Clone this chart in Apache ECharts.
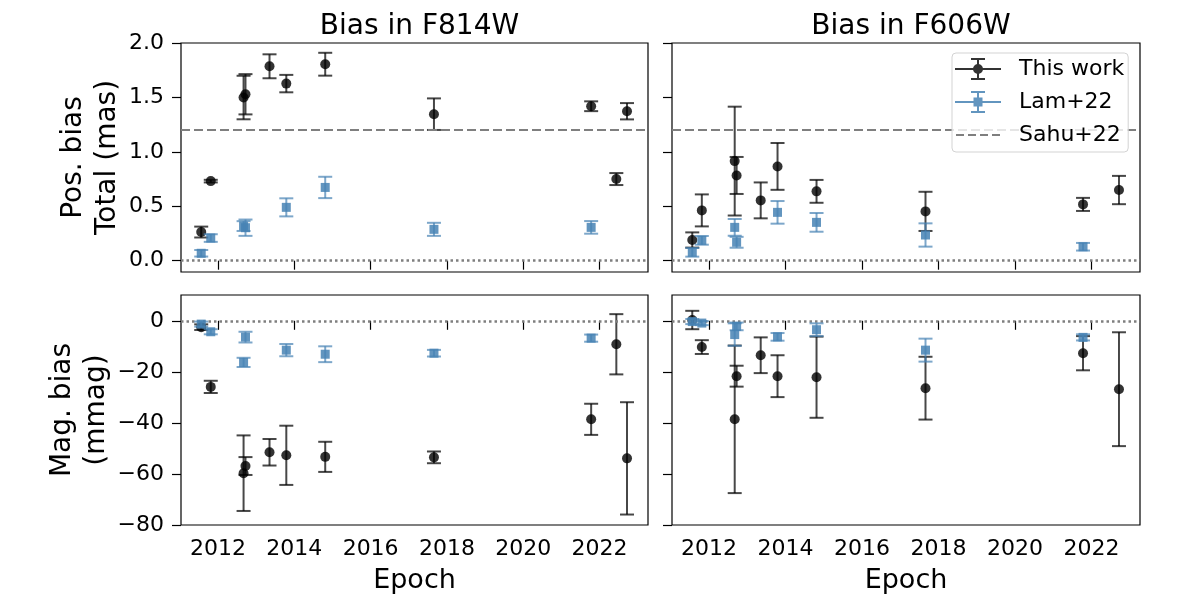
<!DOCTYPE html>
<html>
<head>
<meta charset="utf-8">
<script src="https://cdn.jsdelivr.net/npm/echarts@6/dist/echarts.min.js"></script>
<style>html,body{margin:0;padding:0;background:#fff;}#c{width:1200px;height:600px;}</style>
</head>
<body>
<div id="c"></div>
<script>
// ---- data ----
const epochsThis = [2011.56, 2011.81, 2012.67, 2012.72, 2013.35, 2013.79, 2014.81, 2017.66, 2021.78, 2022.44, 2022.72];
const epochsLam  = [2011.56, 2011.81, 2012.67, 2012.72, 2013.79, 2014.81, 2017.66, 2021.78];

const pos814This = [0.263, 0.731, 1.499, 1.529, 1.786, 1.627, 1.805, 1.346, 1.419, 0.75, 1.373];
const pos814ThisErr = [0.05, 0.012, 0.2, 0.185, 0.11, 0.08, 0.105, 0.145, 0.045, 0.055, 0.075];
const pos606This = [0.19, 0.462, 0.915, 0.783, 0.554, 0.866, 0.637, 0.453, 0.517, null, 0.649];
const pos606ThisErr = [0.07, 0.147, 0.5, 0.17, 0.165, 0.215, 0.105, 0.18, 0.06, null, 0.13];

const pos814Lam = [0.068, 0.208, 0.318, 0.303, 0.49, 0.673, 0.288, 0.306];
const pos814LamErr = [0.03, 0.035, 0.045, 0.075, 0.083, 0.098, 0.06, 0.058];
const pos606Lam = [0.077, 0.187, 0.306, 0.169, 0.444, 0.352, 0.236, 0.128];
const pos606LamErr = [0.04, 0.04, 0.077, 0.05, 0.104, 0.086, 0.107, 0.035];

const mag814This = [-2.5, -25.9, -59.7, -56.9, -51.5, -52.7, -53.3, -53.5, -38.6, -9.2, -53.9];
const mag814ThisErr = [1.1, 2.4, 14.8, 3.5, 5.2, 11.6, 5.9, 2.3, 6.1, 11.8, 22];
const mag606This = [0.3, -10.3, -38.6, -21.7, -13.5, -21.7, -22.1, -26.4, -12.7, null, -26.8];
const mag606ThisErr = [3.6, 2.7, 28.9, 4.1, 7, 8.2, 15.9, 12.3, 6.7, null, 22.3];

const mag814Lam = [-1.3, -4.3, -16.3, -6.4, -11.5, -13.1, -12.7, -6.8];
const mag814LamErr = [1, 1, 1.8, 2.1, 2.4, 3.1, 1.3, 1.4];
const mag606Lam = [-0.3, -0.9, -5.4, -2.2, -6.3, -3.5, -11.5, -6.5];
const mag606LamErr = [1, 0.8, 4.4, 1.5, 1.5, 2.5, 4.5, 1.2];

const sahuPosBias = 1.2;
const zeroLevel = 0;

const xTicks = [2012, 2014, 2016, 2018, 2020, 2022];
const posTicks = [0, 0.5, 1.0, 1.5, 2.0];
const magTicks = [-80, -60, -40, -20, 0];
const titles = ['Bias in F814W', 'Bias in F606W'];
// ---- end data ----

const FONT = 'DejaVu Sans';
const BLACK_M = 'rgba(0,0,0,0.8)';
const BLACK_E = 'rgba(0,0,0,0.72)';
const BLUE_M = 'rgba(70,130,180,0.85)';
const BLUE_E = 'rgba(70,130,180,0.7)';
const GRAY = '#7f7f7f';

function pts(xs, ys, es) {
  const out = [];
  for (let i = 0; i < xs.length; i++) {
    if (ys[i] === null || ys[i] === undefined) continue;
    out.push([xs[i], ys[i], es[i]]);
  }
  return out;
}

function errRender(color) {
  return function (params, api) {
    const x = api.value(0), y = api.value(1), e = api.value(2);
    const a = api.coord([x, y + e]);
    const b = api.coord([x, y - e]);
    const hw = 7;
    const st = { stroke: color, lineWidth: 2 };
    return {
      type: 'group',
      children: [
        { type: 'line', shape: { x1: a[0], y1: a[1], x2: b[0], y2: b[1] }, style: st },
        { type: 'line', shape: { x1: a[0] - hw, y1: a[1], x2: a[0] + hw, y2: a[1] }, style: st },
        { type: 'line', shape: { x1: b[0] - hw, y1: b[1], x2: b[0] + hw, y2: b[1] }, style: st }
      ]
    };
  };
}

const grids = [
  { left: 181, top: 43, width: 467, height: 229 },
  { left: 672, top: 43, width: 468, height: 229 },
  { left: 181, top: 295, width: 467, height: 230 },
  { left: 672, top: 295, width: 468, height: 230 }
].map(g => Object.assign(g, { show: true, borderColor: '#000', borderWidth: 1.2, backgroundColor: 'transparent', containLabel: false }));

const XMIN = 2011.03, XMAX = 2023.27;
const xAxes = [0, 1, 2, 3].map(i => ({
  type: 'value', gridIndex: i, min: XMIN, max: XMAX,
  axisLine: { show: false },
  splitLine: { show: false },
  axisTick: { show: true, customValues: xTicks, length: 9, lineStyle: { color: '#000', width: 1.2 } },
  axisLabel: { show: i >= 2, customValues: xTicks, fontSize: 22, fontFamily: FONT, color: '#000', margin: 13,
    formatter: v => String(v) },
  name: i >= 2 ? 'Epoch' : '', nameLocation: 'middle', nameGap: 42,
  nameTextStyle: { fontSize: 27, fontFamily: FONT, color: '#000' }
}));

const minus = v => String(v).replace('-', '\u2212');
const yAxes = [0, 1, 2, 3].map(i => {
  const top = i < 2;
  return {
    type: 'value', gridIndex: i,
    min: top ? -0.104 : -80, max: top ? 2.0 : 10.1,
    axisLine: { show: false },
    splitLine: { show: false },
    axisTick: { show: true, customValues: top ? posTicks : magTicks, length: 9, lineStyle: { color: '#000', width: 1.2 } },
    axisLabel: {
      show: i % 2 === 0, customValues: top ? posTicks : magTicks,
      fontSize: 22, fontFamily: FONT, color: '#000', margin: 17,
      formatter: v => top ? Number(v).toFixed(1) : minus(v)
    },
    name: i === 0 ? 'Pos. bias\nTotal (mas)' : (i === 2 ? 'Mag. bias\n(mmag)' : ''),
    nameLocation: 'middle', nameRotate: 90, nameGap: top ? 56 : 66,
    nameTextStyle: { fontSize: 28, fontFamily: FONT, color: '#000', lineHeight: 34 }
  };
});

const panels = [
  { g: 0, t: pts(epochsThis, pos814This, pos814ThisErr), l: pts(epochsLam, pos814Lam, pos814LamErr), top: true },
  { g: 1, t: pts(epochsThis, pos606This, pos606ThisErr), l: pts(epochsLam, pos606Lam, pos606LamErr), top: true },
  { g: 2, t: pts(epochsThis, mag814This, mag814ThisErr), l: pts(epochsLam, mag814Lam, mag814LamErr), top: false },
  { g: 3, t: pts(epochsThis, mag606This, mag606ThisErr), l: pts(epochsLam, mag606Lam, mag606LamErr), top: false }
];

const series = [];
panels.forEach(p => {
  const base = { xAxisIndex: p.g, yAxisIndex: p.g, animation: false, silent: true };
  series.push(Object.assign({}, base, {
    type: 'line', name: '_zero' + p.g, data: [], symbol: 'none',
    markLine: {
      symbol: 'none', silent: true, animation: false, label: { show: false },
      lineStyle: { color: GRAY, width: 2.5, type: [2.5, 3] },
      data: [{ yAxis: zeroLevel }]
    }
  }));
  if (p.top) {
    series.push(Object.assign({}, base, {
      type: 'line', name: 'Sahu+22', data: [], symbol: 'none', showSymbol: false,
      lineStyle: { color: GRAY, width: 2, type: [7, 3] },
      itemStyle: { color: GRAY },
      markLine: {
        symbol: 'none', silent: true, animation: false, label: { show: false },
        lineStyle: { color: GRAY, width: 2, type: [9, 4] },
        data: [{ yAxis: sahuPosBias }]
      }
    }));
  }
  series.push(Object.assign({}, base, {
    type: 'custom', name: '_errT' + p.g, data: p.t, renderItem: errRender(BLACK_E), z: 3
  }));
  series.push(Object.assign({}, base, {
    type: 'scatter', name: 'This work', data: p.t, symbol: 'circle', symbolSize: 10,
    itemStyle: { color: BLACK_M, opacity: 1 }, z: 4
  }));
  series.push(Object.assign({}, base, {
    type: 'custom', name: '_errL' + p.g, data: p.l, renderItem: errRender(BLUE_E), z: 5
  }));
  series.push(Object.assign({}, base, {
    type: 'scatter', name: 'Lam+22', data: p.l, symbol: 'rect', symbolSize: 9,
    itemStyle: { color: BLUE_M, opacity: 1 }, z: 6
  }));
});

const corners = 'M0 0 h0.01 v0.01 h-0.01 Z M45.99 21.99 h0.01 v0.01 h-0.01 Z ';
const bar = 'M0 10 h46 v2 h-46 Z M22 0 h2 v22 h-2 Z M16 0 h14 v2 h-14 Z M16 20 h14 v2 h-14 Z ';
const iconThis = 'path://' + bar + 'M28 11 A5 5 0 1 1 18 11 A5 5 0 1 1 28 11 Z';
const iconLam = 'path://' + bar + 'M18.5 6.5 h9 v9 h-9 Z';
const iconSahu = 'path://' + corners + 'M1 10 h8 v2 h-8 Z M13 10 h8 v2 h-8 Z M25 10 h8 v2 h-8 Z M37 10 h8 v2 h-8 Z';

const option = {
  backgroundColor: '#fff',
  animation: false,
  textStyle: { fontFamily: FONT },
  title: titles.map((t, i) => ({
    text: t, left: i === 0 ? 414.5 : 906, top: 8, textAlign: 'center',
    textStyle: { fontSize: 28, fontWeight: 'normal', fontFamily: FONT, color: '#000' }
  })),
  grid: grids,
  xAxis: xAxes,
  yAxis: yAxes,
  legend: {
    z: 20,
    data: [
      { name: 'This work', icon: iconThis },
      { name: 'Lam+22', icon: iconLam },
      { name: 'Sahu+22', icon: iconSahu }
    ],
    orient: 'vertical', left: 952, top: 53,
    itemWidth: 46, itemHeight: 22, itemGap: 11,
    padding: [5, 4, 6, 3],
    backgroundColor: 'rgba(255,255,255,0.8)', borderColor: '#d3d3d3', borderWidth: 1, borderRadius: 4,
    textStyle: { fontSize: 22, fontFamily: FONT, color: '#000', padding: [0, 0, 0, 13] },
    selectedMode: false
  },
  series: series
};

const chart = echarts.init(document.getElementById('c'), null, { renderer: 'canvas' });
chart.setOption(option);
</script>
</body>
</html>
